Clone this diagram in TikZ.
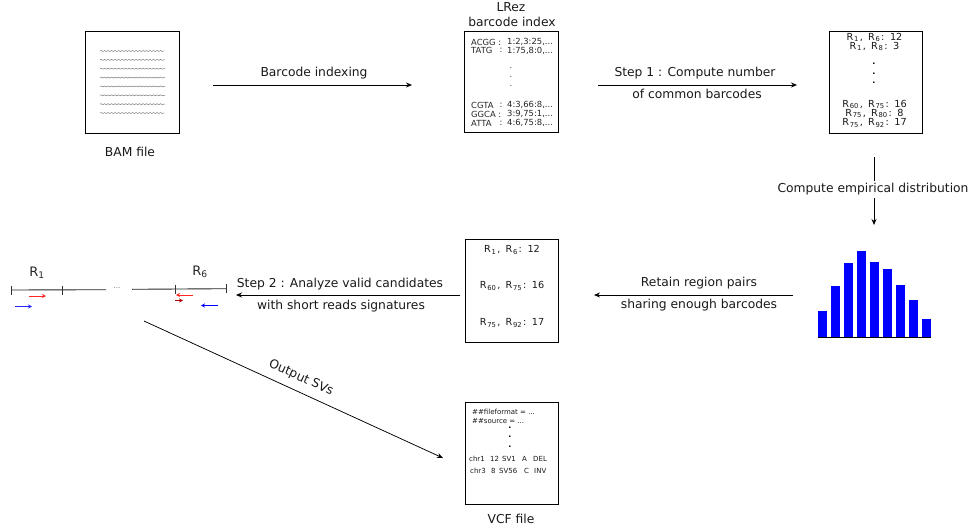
\documentclass[tikz,border=0pt]{standalone}
\usepackage{fontspec}
\setmainfont{DejaVu Sans}
\usetikzlibrary{arrows.meta,decorations.pathmorphing}
\tikzset{
  x=1pt,y=-1pt,
  filebox/.style={draw=black,line width=0.9pt,fill=white,inner sep=0pt},
  lbl/.style={font=\fontsize{12.3}{14}\selectfont,inner sep=0pt,text=black!90},
  idx/.style={font=\fontsize{8.4}{10}\selectfont,inner sep=0pt,anchor=west,text=black!85},
  pair/.style={font=\fontsize{9.7}{11}\selectfont,inner sep=0pt,text=black!90},
  vcf/.style={font=\fontsize{7}{8}\selectfont,inner sep=0pt,anchor=west,text=black!90},
  flow/.style={draw=black,line width=0.75pt,-{Stealth[length=6pt,width=5pt]}},
  wave/.style={draw=black!55,line width=0.45pt,decorate,decoration={snake,segment length=3.5pt,amplitude=0.5pt}},
  rd/.style={line width=0.8pt,-{Stealth[length=4pt,width=4pt]}},
  seg/.style={line width=0.9pt,draw=black!85},
  bar/.style={fill=blue,draw=none},
  dots/.style={font=\fontsize{8}{8}\selectfont\bfseries,inner sep=0pt},
  thindots/.style={font=\fontsize{7}{7}\selectfont,inner sep=0pt}
}
\newcommand{\Rr}[1]{R\kern0.8pt\textsubscript{#1}\kern0.8pt}
\newcommand{\Pa}[3]{\Rr{#1},\kern5.2pt\Rr{#2}:\kern5.6pt#3}
\begin{document}
\begin{tikzpicture}
\useasboundingbox (0,0) rectangle (971,530);
% boxes
\node[filebox,minimum width=94pt,minimum height=102pt] (bam) at (132,82) {};
\node[filebox,minimum width=94pt,minimum height=101pt] (index) at (511.5,81.5) {};
\node[filebox,minimum width=93pt,minimum height=102pt] (common) at (875.5,82) {};
\node[filebox,minimum width=93pt,minimum height=103pt] (valid) at (511.5,290.5) {};
\node[filebox,minimum width=93pt,minimum height=102pt] (vcffile) at (511.5,453) {};
% BAM
\foreach \i in {0,...,7} \draw[wave] (100,51+\i*8.86) -- (165,51+\i*8.86);
\node[lbl] (bamlabel) at (130,152) {BAM file};
% index
\node[lbl] (lrez1) at (511,7) {LRez};
\node[lbl] (lrez2) at (512,22) {barcode index};
\node[idx] at (471,42) {ACGG :};
\node[idx] at (507,42) {1:2,3:25,...};
\node[idx] at (471,50.5) {TATG};
\node[idx] at (499.5,50.5) {:};
\node[idx] at (507,50.5) {1:75,8:0,...};
\foreach \yy in {68,77,86} \node[thindots] at (511,\yy) {.};
\node[idx] at (471,105) {CGTA};
\node[idx] at (499.5,105) {:};
\node[idx] at (507,105) {4:3,66:8,...};
\node[idx] at (471,114) {GGCA :};
\node[idx] at (507,114) {3:9,75:1,...};
\node[idx] at (471,123) {ATTA};
\node[idx] at (499.5,123) {:};
\node[idx] at (507,123) {4:6,75:8,...};
% common
\node[pair] at (874.5,37.5) {\Pa{1}{6}{12}};
\node[pair] at (874.5,46.5) {\Pa{1}{8}{3}};
\foreach \yy in {64,74,83} \node[dots] at (874,\yy) {.};
\node[pair] at (874.5,104.5) {\Pa{60}{75}{16}};
\node[pair] at (874.5,113.5) {\Pa{75}{80}{8}};
\node[pair] at (874.5,123) {\Pa{75}{92}{17}};
% valid
\node[pair] at (512,250) {\Pa{1}{6}{12}};
\node[pair] at (512,286) {\Pa{60}{75}{16}};
\node[pair] at (512,323) {\Pa{75}{92}{17}};
% vcf
\node[vcf] at (472,412) {\#\#fileformat = ...};
\node[vcf] at (472,421) {\#\#source = ...};
\foreach \yy in {428,437,447} \node[dots] at (510,\yy) {.};
\node[vcf] at (469,459) {chr1};
\node[vcf] at (490,459) {12};
\node[vcf] at (502,459) {SV1};
\node[vcf] at (522,459) {A};
\node[vcf] at (533,459) {DEL};
\node[vcf] at (470,471) {chr3};
\node[vcf] at (491,471) {8};
\node[vcf] at (499,471) {SV56};
\node[vcf] at (524,471) {C};
\node[vcf] at (534,471) {INV};
\node[lbl] (vcflabel) at (511,519) {VCF file};
% histogram
\foreach \xa/\xb/\top in {818/827/311,830.5/840/286,843.5/853/262.7,856.5/866/251,869.5/879/261.7,882.5/892/269,895.5/905/285.3,908.5/918/300,921.5/931/319}
  \fill[bar] (\xa,\top) rectangle (\xb,337.5);
\draw[line width=0.8pt] (818,337.5) -- (931,337.5);
% flow coordinates
\coordinate (a1s) at (213,85); \coordinate (a1e) at (412,85);
\coordinate (a2s) at (598,85); \coordinate (a2e) at (797,85);
\coordinate (a3s) at (874,157); \coordinate (a3e) at (874,225);
\coordinate (a4s) at (793,295); \coordinate (a4e) at (594,295);
\coordinate (a5s) at (460,295); \coordinate (a5e) at (236,295);
\coordinate (a6s) at (144,321); \coordinate (a6e) at (443,458);
\draw[flow] (a1s) -- (a1e);
\draw[flow] (a2s) -- (a2e);
\draw[flow] (a3s) -- (a3e);
\draw[flow] (a4s) -- (a4e);
\draw[flow] (a5s) -- (a5e);
\draw[flow] (a6s) -- (a6e);
\node[lbl] at (314,73.5) {Barcode indexing};
\node[lbl] at (695,73.5) {Step 1 : Compute number};
\node[lbl] at (697,93.5) {of common barcodes};
\node[lbl,fill=white,inner xsep=1pt,inner ysep=3pt] at (873,189.5) {Compute empirical distribution};
\node[lbl] at (699,283.5) {Retain region pairs};
\node[lbl] at (699,305.5) {sharing enough barcodes};
\node[lbl] at (340,284.5) {Step 2 : Analyze valid candidates};
\node[lbl] at (341,306.5) {with short reads signatures};
\node[lbl,rotate=-24.6] at (301,378) {Output SVs};
% regions
\draw[seg] (11.7,290) -- (106,289.7);
\draw[seg] (132,289.3) -- (226,288.7);
\foreach \xx/\yy in {11.7/290,62.5/290,175/289,226/288.7}
  \draw[line width=0.8pt,black!80] (\xx,\yy-4.5) -- (\xx,\yy+4.5);
\node[font=\fontsize{7}{7}\selectfont,text=black!60,inner sep=0pt] at (117,288) {...};
\node[font=\fontsize{13}{14}\selectfont,inner sep=0pt,text=black!85] (r1) at (37,273) {R\textsubscript{1}};
\node[font=\fontsize{13}{14}\selectfont,inner sep=0pt,text=black!85] (r6) at (200,272) {R\textsubscript{6}};
\draw[rd,red!85] (29,296) -- (46,296);
\draw[rd,blue!85] (15,306.5) -- (32,306.5);
\draw[rd,red!85] (193,295) -- (176,295);
\draw[rd,red!70!black] (175,300.5) -- (183,300.5);
\draw[rd,blue] (218,305.5) -- (201,305.5);
\end{tikzpicture}
\end{document}
